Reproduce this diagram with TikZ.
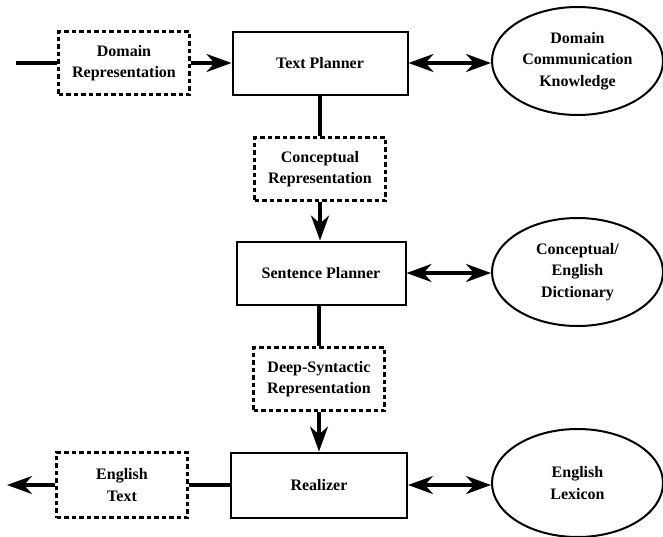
\documentclass[tikz,border=0pt]{standalone}
\usepackage{fontspec}
\setmainfont{Liberation Serif}
\usetikzlibrary{arrows.meta,shapes.geometric}
\begin{document}
\begin{tikzpicture}[x=1pt,y=-1pt,
  every node/.style={font=\fontsize{16}{21.5}\selectfont\bfseries, align=center, inner sep=0pt},
  proc/.style={draw, line width=2pt, minimum height=63pt},
  repbox/.style={draw, line width=2.2pt, dash pattern=on 4.5pt off 3pt, minimum width=131pt, minimum height=63pt},
  store/.style={ellipse, draw, line width=2pt, minimum width=171pt, minimum height=108pt},
  conn/.style={line width=3.4pt},
  tip/.style={-{Stealth[length=25pt,width=18pt,inset=8pt]}},
  arr/.style={conn, tip},
  dbl/.style={conn, {Stealth[length=25pt,width=18pt,inset=8pt]}-{Stealth[length=25pt,width=18pt,inset=8pt]}}
]
\useasboundingbox (0,0) rectangle (663,536);

\node[repbox] (dr) at (124,63) {Domain\\Representation};
\node[proc, minimum width=175pt] (tp) at (320,63) {Text Planner};
\node[store] (e1) at (577.5,61) {Domain\\Communication\\Knowledge};

\node[repbox] (cr) at (320,169) {Conceptual\\Representation};
\node[proc, minimum width=169pt] (sp) at (321,273) {Sentence Planner};
\node[store] (e2) at (577.5,272) {Conceptual/\\English\\Dictionary};

\node[repbox] (ds) at (319,379) {Deep-Syntactic\\Representation};
\node[proc, minimum width=176pt, minimum height=65pt] (rz) at (319,485) {Realizer};
\node[repbox, minimum height=65pt] (et) at (122,485) {English\\Text};
\node[store] (e3) at (577.5,483) {English\\Lexicon};

\coordinate (in) at (16,63);
\coordinate (out) at (7,485);

\draw[conn] (in) -- (dr.west);
\draw[arr] (dr.east) -- (tp.west);
\draw[dbl] (tp.east) -- (tp.east -| e1.west);

\draw[conn] (tp.south -| cr.north) -- (cr.north);
\draw[arr] (cr.south) -- (cr.south |- sp.north);
\draw[dbl] (sp.east) -- (sp.east -| e2.west);

\draw[conn] (sp.south -| ds.north) -- (ds.north);
\draw[arr] (ds.south) -- (ds.south |- rz.north);
\draw[dbl] (rz.east) -- (rz.east -| e3.west);

\draw[conn] (rz.west) -- (et.east);
\draw[arr] (et.west) -- (out);
\end{tikzpicture}
\end{document}
